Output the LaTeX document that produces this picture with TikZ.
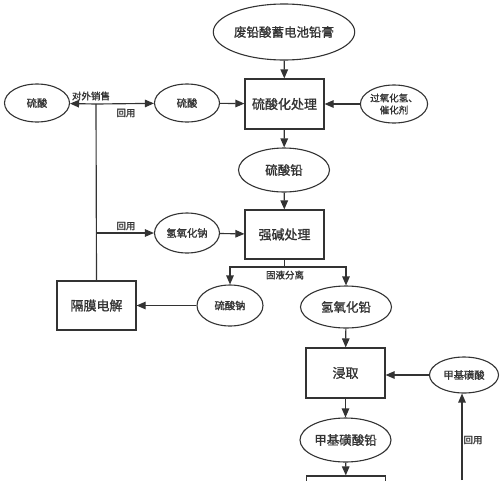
\documentclass[tikz,border=0pt]{standalone}
\usepackage{fontspec}
\setmainfont{Noto Sans CJK SC}
\newfontfamily\semib{Noto Sans CJK SC}[FakeBold=1.3]
\usetikzlibrary{shapes.geometric,arrows.meta,calc}
\definecolor{ln}{HTML}{333333}
\begin{document}
\begin{tikzpicture}[x=1pt,y=-1pt,
  every node/.style={text=ln,font=\semib},
  box/.style={draw=ln,line width=1.15pt,minimum width=79pt,minimum height=50pt,inner sep=0pt,font=\fontsize{13}{15}\selectfont\semib},
  ell/.style={draw=ln,line width=1.1pt,ellipse,inner sep=0pt},
  big/.style={font=\fontsize{12.5}{15}\selectfont\semib},
  small/.style={font=\fontsize{10.3}{12}\selectfont\semib},
  lab/.style={font=\fontsize{9.5}{11}\selectfont\semib,inner sep=1pt},
  arr/.style={draw=ln,line width=1.15pt,-{Triangle[length=9pt,width=7.5pt]}},
  lin/.style={draw=ln,line width=1.15pt}]
\useasboundingbox (0,0) rectangle (500,480);
\clip (0,0) rectangle (500,480);
% nodes
\node[ell,big,minimum width=129pt,minimum height=56pt] (top) at (284,32) {废铅酸蓄电池铅膏};
\node[box] (b1) at (284.5,104) {硫酸化处理};
\node[ell,small,minimum width=65pt,minimum height=38pt] (sL) at (37,103) {硫酸};
\node[ell,small,minimum width=65pt,minimum height=38pt] (sR) at (187,103) {硫酸};
\node[ell,small,minimum width=67pt,minimum height=38pt,align=center,font=\fontsize{9.5}{12}\selectfont\semib] (gy) at (394,104) {过氧化氢、\\催化剂};
\node[ell,big,minimum width=91pt,minimum height=44pt] (pbs) at (284,170) {硫酸铅};
\node[box,minimum height=49pt] (b2) at (284.5,234.5) {强碱处理};
\node[ell,small,minimum width=65pt,minimum height=40pt] (naoh) at (187,233) {氢氧化钠};
\node[box,minimum height=49pt] (b3) at (96.5,305.5) {隔膜电解};
\node[ell,small,minimum width=66pt,minimum height=41pt] (nas) at (230,305.5) {硫酸钠};
\node[ell,big,minimum width=91pt,minimum height=42pt] (pboh) at (346,307) {氢氧化铅};
\node[box] (b4) at (345.5,373) {浸取};
\node[ell,small,minimum width=69pt,minimum height=36pt] (msa) at (464,375) {甲基磺酸};
\node[ell,big,minimum width=91pt,minimum height=44pt] (pbm) at (345.5,440) {甲基磺酸铅};
\node[box] (b5) at (346,501) {};
\coordinate (jt) at (96,104);
\coordinate (jm) at (96,233);
\coordinate (sp) at (284.5,267);
\coordinate (spL) at (230,267);
\coordinate (spR) at (346,267);
\coordinate (bot) at (462,480);
% connectors
\draw[arr] (top) -- (b1);
\draw[arr] (sR) -- (b1);
\draw[arr] (gy) -- (b1);
\draw[arr] (b1) -- (pbs);
\draw[arr] (pbs) -- (b2);
\draw[arr] (naoh) -- (b2);
\draw[lin] (b2.south) -- (sp);
\draw[arr] (spR) -| (nas.north);
\draw[arr] (spL) -| (pboh.north);
\draw[arr] (nas) -- (b3);
\draw[lin] (b3.north) -- (jt);
\draw[arr] (jt) -- (sL);
\draw[arr] (jt) -- (sR);
\draw[arr] (jm) -- (naoh);
\draw[arr] (pboh) -- (b4);
\draw[arr] (msa) -- (b4.east |- msa.west);
\draw[arr] (b4) -- (pbm);
\draw[arr] (pbm) -- (b5);
\draw[arr] (bot) -- (bot |- msa.south);
% labels
\node[lab] at (91,96) {对外销售};
\node[lab] at (126,113) {回用};
\node[lab] at (126,226) {回用};
\node[lab] at (285,275) {固液分离};
\node[lab] at (473,440) {回用};
\end{tikzpicture}
\end{document}
